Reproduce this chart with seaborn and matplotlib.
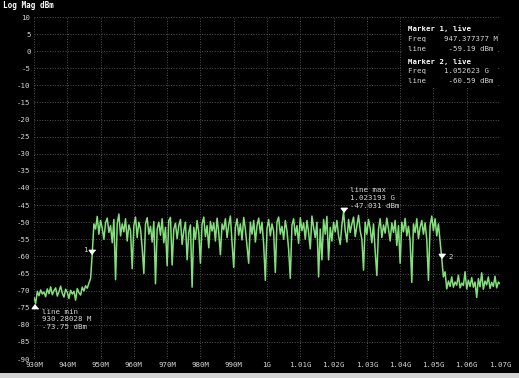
import numpy as np
import pandas as pd
import matplotlib
matplotlib.use("Agg")
import matplotlib.pyplot as plt
from matplotlib.patches import Rectangle
import seaborn as sns

# trace, 0.5 MHz per point from 930 MHz to 1070 MHz
low_band = [-72.0, -73.75, -70.2, -71.5, -69.8, -71.0, -70.4, -71.8, -69.5, -70.9,
            -68.9, -71.2, -70.0, -69.2, -71.6, -70.3, -68.7, -70.8, -71.9, -69.6,
            -70.5, -72.3, -69.9, -71.0, -70.2, -72.8, -69.4, -70.6, -71.3, -69.0,
            -70.1, -68.6, -69.3, -67.8]
rise = [-66.5, -59.2]
main_band = [
    -50.5, -52.0, -48.3, -53.5, -49.5, -51.8, -55.0, -50.2, -48.8, -53.0,
    -51.0, -56.0, -49.2, -66.8, -50.5, -47.6, -54.0, -50.5, -52.8, -49.0,
    -55.5, -50.8, -52.5, -63.6, -51.0, -48.5, -54.5, -50.0, -52.0, -57.5,
    -65.0, -50.5, -48.7, -53.5, -51.2, -55.8, -49.8, -68.0, -52.0, -50.0,
    -53.8, -49.0, -56.0, -51.5, -62.7, -49.5, -48.6, -62.5, -52.0, -50.3,
    -54.8, -51.0, -49.2, -56.5, -52.5, -50.0, -61.0, -53.0, -50.8, -69.0,
    -51.5, -55.0, -49.5, -53.0, -62.0, -50.5, -48.5, -54.2, -51.0, -57.5,
    -49.8, -52.6, -50.2, -55.5, -48.8, -53.0, -59.5, -50.5, -52.2, -49.0,
    -54.5, -50.8, -48.2, -56.0, -63.2, -51.5, -49.0, -53.8, -50.5, -55.2,
    -48.6, -52.0, -57.0, -62.0, -50.0, -53.5, -49.5, -55.8, -51.0, -48.8,
    -53.2, -50.0, -56.5, -67.0, -51.8, -49.2, -54.0, -50.5, -52.8, -64.7,
    -50.0, -48.5, -53.5, -51.2, -55.0, -49.5, -52.5, -58.0, -66.4, -50.8,
    -49.0, -53.8, -51.0, -56.2, -48.7, -52.5, -50.2, -55.0, -49.5, -53.0,
    -57.8, -48.2, -51.5, -54.5, -50.0, -66.0, -52.0, -61.0, -49.2, -53.5,
    -48.3, -61.0, -51.5, -55.5, -50.0, -52.8, -49.5, -54.0, -56.5, -50.8,
    -47.0, -52.5, -55.8, -49.2, -53.0, -50.5, -48.5, -54.2, -51.0, -48.0,
    -52.5, -55.0, -64.0, -50.0, -53.5, -49.2, -51.8, -56.0, -50.5, -58.5,
    -65.6, -52.0, -49.0, -54.5, -50.8, -53.2, -48.8, -52.0, -55.5, -50.2,
    -53.0, -49.5, -56.8, -51.0, -62.0, -50.0, -52.8, -48.9, -54.0, -51.2,
    -55.5, -67.6, -50.5, -53.0, -49.0, -54.8, -51.5, -49.5, -53.5, -50.2,
    -55.0, -67.0, -51.0, -48.2, -52.5, -49.0, -54.0, -50.5, -55.5]
drop = [-60.6, -66.0]
high_band = [-64.5, -69.5, -67.2, -68.8, -66.0, -69.0, -67.5, -68.4, -65.5, -69.2,
             -67.8, -68.5, -64.5, -69.5, -67.0, -68.8, -66.2, -69.0, -67.5, -72.0,
             -66.5, -68.9, -64.8, -69.6, -67.2, -68.3, -66.0, -69.4, -67.6, -68.8,
             -65.8, -69.2, -67.5, -68.0]

level_dbm = low_band + rise + main_band + drop + high_band
freq_mhz = np.linspace(930, 1070, len(level_dbm))

x_ticks = list(range(930, 1071, 10))
x_labels = ["930M", "940M", "950M", "960M", "970M", "980M", "990M", "1G",
            "1.01G", "1.02G", "1.03G", "1.04G", "1.05G", "1.06G", "1.07G"]
y_ticks = list(range(-90, 11, 5))

# markers: (freq MHz, level dBm)
marker1 = (947.377377, -59.19)
marker2 = (1052.623, -60.59)
line_max = (1023.193, -47.031)
line_min = (930.28028, -73.75)

TXT = "#d6d6d6"
TRACE = "#84e07c"
MONO = ["DejaVu Sans Mono"]

sns.set_style("dark", {"axes.facecolor": "black", "figure.facecolor": "black",
                       "grid.color": "#515151", "grid.linestyle": ":",
                       "axes.edgecolor": "black"})
plt.rcParams["font.family"] = MONO

fig = plt.figure(figsize=(5.19, 3.78), dpi=100)
ax = fig.add_axes([34 / 519, 1 - 359 / 378, 466 / 519, 342 / 378])

df = pd.DataFrame({"freq": freq_mhz, "level": level_dbm})
sns.lineplot(data=df, x="freq", y="level", color=TRACE, lw=1.1, ax=ax, zorder=4)

ax.set_xlim(930, 1070)
ax.set_ylim(-90, 10)
ax.set_xticks(x_ticks)
ax.set_xticklabels(x_labels)
ax.set_yticks(y_ticks)
ax.set_yticklabels([str(v) for v in y_ticks])
ax.tick_params(length=0, labelsize=5.3, labelcolor=TXT, pad=2.5)
ax.grid(True, lw=0.7)
for s in ax.spines.values():
    s.set_visible(False)
ax.set_xlabel("")
ax.set_ylabel("")

fig.text(3 / 519, 1 - 6 / 378, "Log Mag dBm", color="white", fontsize=5.5,
         fontweight="bold", va="center", ha="left")

down = [(0, 0), (-1, 1.3), (1, 1.3)]
up = [(0, 0), (-1, -1.3), (1, -1.3)]
mk = dict(color="white", markersize=6, ls="none", zorder=6, clip_on=False)
ax.plot(*marker1, marker=down, **mk)
ax.plot(*marker2, marker=down, **mk)
ax.plot(*line_max, marker=down, **mk)
ax.plot(line_min[0], line_min[1] - 0.3, marker=up, **mk)

fs = 5.3
ax.text(marker1[0] - 1.3, marker1[1] + 1.2, "1", color=TXT, fontsize=fs,
        ha="right", va="center")
ax.text(marker2[0] + 1.8, marker2[1] + 0.3, "2", color=TXT, fontsize=fs,
        ha="left", va="center")
ax.text(line_max[0] + 1.6, -42.9, "line max\n1.023193 G\n-47.031 dBm", color=TXT,
        fontsize=fs, ha="left", va="center", linespacing=1.35, zorder=6)
ax.text(line_min[0] + 2.0, -78.4, "line min\n930.28028 M\n-73.75 dBm", color=TXT,
        fontsize=fs, ha="left", va="center", linespacing=1.35, zorder=6)

# marker readout box
ax.add_patch(Rectangle((1040.8, -10.5), 28.5, 19.8, facecolor="black",
                       edgecolor="none", zorder=3))
box_rows = [(6.5, "Marker 1, live", True),
            (3.5, "Freq    947.377377 M", False),
            (0.6, "line     -59.19 dBm", False),
            (-2.9, "Marker 2, live", True),
            (-5.8, "Freq    1.052623 G", False),
            (-8.6, "line     -60.59 dBm", False)]
for yv, s, bold in box_rows:
    ax.text(1042.3, yv, s, color="white" if bold else TXT, fontsize=fs,
            fontweight="bold" if bold else "normal", ha="left", va="center",
            zorder=6)

fig.patches.append(Rectangle((0, 0), 1, 5 / 378, transform=fig.transFigure,
                             facecolor="#d4d4d4", edgecolor="none"))

fig.savefig("out.png", dpi=100, facecolor="black")
